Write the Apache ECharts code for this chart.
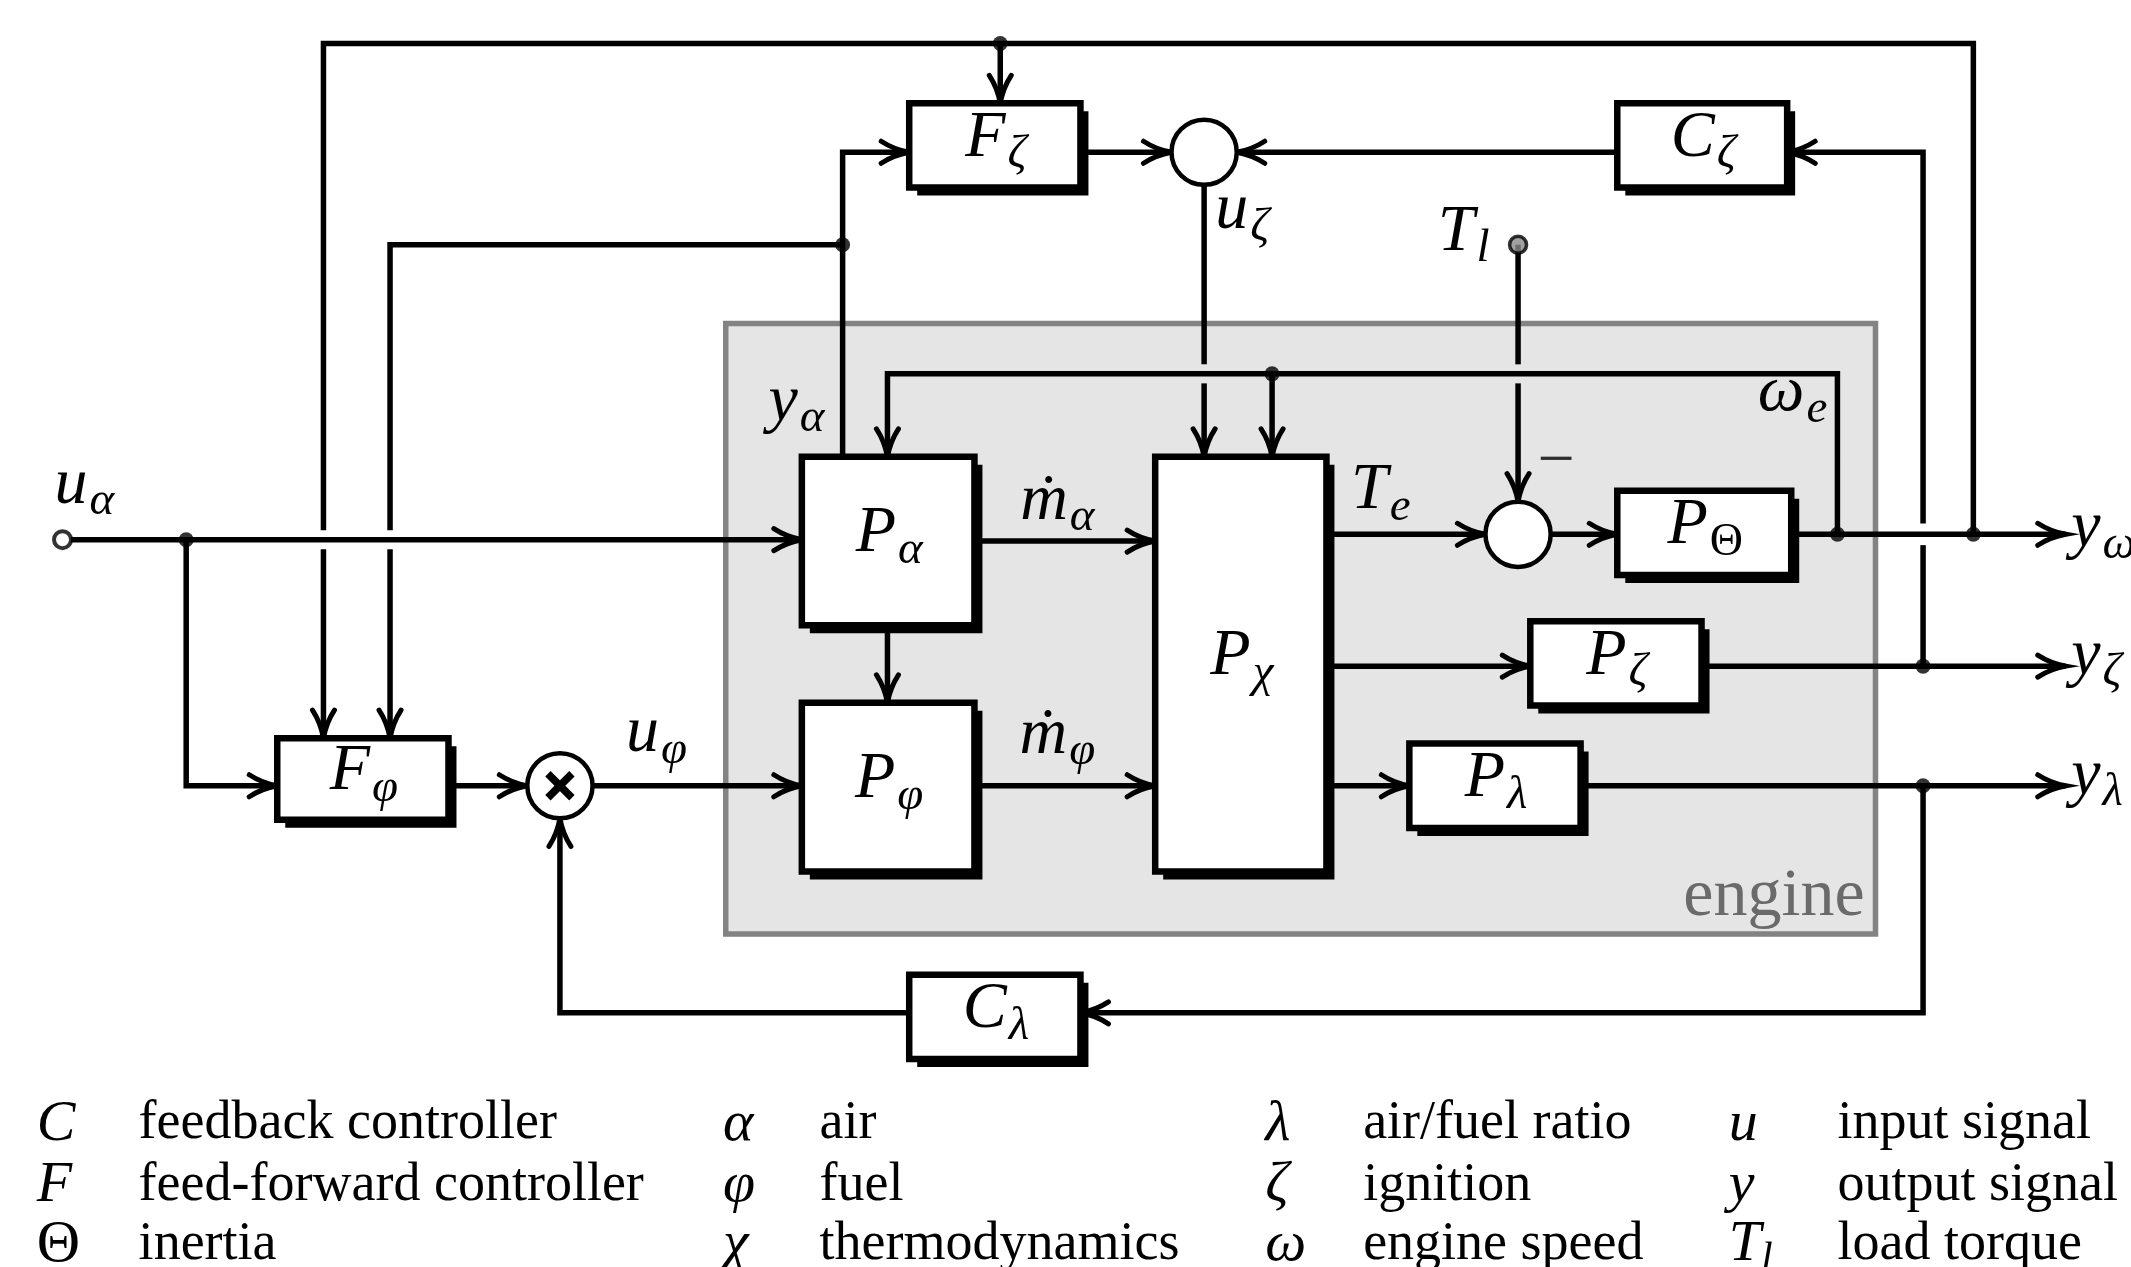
<!DOCTYPE html>
<html>
<head>
<meta charset="utf-8">
<script src="https://cdn.jsdelivr.net/npm/echarts@6/dist/echarts.min.js"></script>
<style>
    html, body { margin: 0; padding: 0; background: #fff; }
    #chart { width: 2131px; height: 1267px; }
</style>
</head>
<body>
<div id="chart"></div>
<script>
// diagram units: x 0..1568 left to right, y 0..932 top to bottom
const SERIF = '"Liberation Serif", "DejaVu Serif", serif'

const engineArea = [534, 238, 1380, 687]

// [x0, y0, x1, y1, symbol, subscript]
const blocks = [
    [669, 76, 795, 138, 'F', 'ζ'],
    [1190, 76, 1315, 138, 'C', 'ζ'],
    [590, 336, 717, 460, 'P', 'α'],
    [590, 517, 717, 641, 'P', 'φ'],
    [850, 336, 976, 641, 'P', 'χ'],
    [1190, 361, 1318, 423, 'P', 'Θ'],
    [1126, 457, 1252, 519, 'P', 'ζ'],
    [1037, 547, 1163, 609, 'P', 'λ'],
    [204, 543, 330, 603, 'F', 'φ'],
    [669, 717, 795, 779, 'C', 'λ']
]

// signal paths, last point gets an arrow head when arrow is true
const wires = [
    { pts: [[238, 390], [238, 32], [1452, 32], [1452, 393]], arrow: false },
    { pts: [[238, 404], [238, 543]], arrow: true },
    { pts: [[736, 32], [736, 76]], arrow: true },
    { pts: [[620, 180], [287, 180], [287, 390]], arrow: false },
    { pts: [[287, 404], [287, 543]], arrow: true },
    { pts: [[620, 336], [620, 112], [669, 112]], arrow: true },
    { pts: [[795, 112], [862, 112]], arrow: true },
    { pts: [[1190, 112], [910, 112]], arrow: true },
    { pts: [[1415, 490], [1415, 401]], arrow: false },
    { pts: [[1415, 385], [1415, 112], [1315, 112]], arrow: true },
    { pts: [[886, 136], [886, 268]], arrow: false },
    { pts: [[886, 282], [886, 336]], arrow: true },
    { pts: [[1117, 180], [1117, 268]], arrow: false },
    { pts: [[1117, 282], [1117, 369]], arrow: true },
    { pts: [[1352, 393], [1352, 275], [653, 275], [653, 336]], arrow: true },
    { pts: [[936, 275], [936, 336]], arrow: true },
    { pts: [[52, 397], [590, 397]], arrow: true },
    { pts: [[137, 397], [137, 578], [204, 578]], arrow: true },
    { pts: [[330, 578], [388, 578]], arrow: true },
    { pts: [[436, 578], [590, 578]], arrow: true },
    { pts: [[653, 460], [653, 517]], arrow: true },
    { pts: [[717, 398], [850, 398]], arrow: true },
    { pts: [[717, 578], [850, 578]], arrow: true },
    { pts: [[976, 393], [1093, 393]], arrow: true },
    { pts: [[1141, 393], [1190, 393]], arrow: true },
    { pts: [[1318, 393], [1520, 393]], arrow: true },
    { pts: [[976, 490], [1126, 490]], arrow: true },
    { pts: [[1252, 490], [1520, 490]], arrow: true },
    { pts: [[976, 578], [1037, 578]], arrow: true },
    { pts: [[1163, 578], [1520, 578]], arrow: true },
    { pts: [[1415, 578], [1415, 745], [795, 745]], arrow: true },
    { pts: [[669, 745], [412, 745], [412, 602]], arrow: true }
]

// summing / multiplying points: [x, y, kind]
const nodes = [
    [886, 112, 'sum'],
    [1117, 393, 'sum'],
    [412, 578, 'mult']
]

const branchDots = [
    [137, 397], [620, 180], [736, 32], [936, 275],
    [1352, 393], [1452, 393], [1415, 490], [1415, 578]
]

const terminals = [
    [46, 397, 'open'],
    [1117, 180, 'grey']
]

// [x, y, symbol, subscript, align]
const signalLabels = [
    [62, 357, 'u', 'α', 'center'],
    [586, 296, 'y', 'α', 'center'],
    [778, 369, 'ṁ', 'α', 'center'],
    [778, 541, 'ṁ', 'φ', 'center'],
    [483, 540, 'u', 'φ', 'center'],
    [914, 155, 'u', 'ζ', 'center'],
    [1077, 171, 'T', 'l', 'center'],
    [1016, 361, 'T', 'e', 'center'],
    [1319, 289, 'ω', 'e', 'center'],
    [1524, 389, 'y', 'ω', 'left'],
    [1524, 483, 'y', 'ζ', 'left'],
    [1524, 571, 'y', 'λ', 'left']
]

const legendRows = [827, 872, 916]
const legendCols = [[27, 102], [532, 603], [931, 1003], [1272, 1352]]
const legendSymbols = [
    ['C', 'F', 'Θ'],
    ['α', 'φ', 'χ'],
    ['λ', 'ζ', 'ω'],
    ['u', 'y', 'T_l']
]
const legendTexts = [
    ['feedback controller', 'feed-forward controller', 'inertia'],
    ['air', 'fuel', 'thermodynamics'],
    ['air/fuel ratio', 'ignition', 'engine speed'],
    ['input signal', 'output signal', 'load torque']
]

const RICH = {
    b: { fontFamily: SERIF, fontStyle: 'italic', fontSize: 66, lineHeight: 80, verticalAlign: 'middle' },
    s: { fontFamily: SERIF, fontStyle: 'italic', fontSize: 47, lineHeight: 38, verticalAlign: 'bottom', padding: [0, 0, 0, 2] },
    su: { fontFamily: SERIF, fontSize: 46, lineHeight: 38, verticalAlign: 'bottom', padding: [0, 0, 0, 2] },
    r: { fontFamily: SERIF, fontSize: 60, lineHeight: 72, verticalAlign: 'middle' },
    lb: { fontFamily: SERIF, fontStyle: 'italic', fontSize: 58, lineHeight: 72, verticalAlign: 'middle' },
    ls: { fontFamily: SERIF, fontStyle: 'italic', fontSize: 42, lineHeight: 36, verticalAlign: 'bottom' }
}

function mathText(main, sub) {
    let t = '{b|' + main + '}'
    if (sub) t += (sub === 'Θ' ? '{su|' : '{s|') + sub + '}'
    return t
}

const chart = echarts.init(document.getElementById('chart'), null, { renderer: 'canvas' })

function renderEngine(params, api) {
    const p0 = api.coord([engineArea[0], engineArea[1]])
    const p1 = api.coord([engineArea[2], engineArea[3]])
    const tp = api.coord([1372, 660])
    return {
        type: 'group',
        children: [
            {
                type: 'rect',
                shape: { x: p0[0], y: p0[1], width: p1[0] - p0[0], height: p1[1] - p0[1] },
                style: { fill: '#e5e5e5', stroke: '#838383', lineWidth: 5.5 }
            },
            {
                type: 'text', x: tp[0], y: tp[1],
                style: { text: 'engine', fontFamily: SERIF, fontSize: 68, fill: '#6a6a6a', align: 'right', verticalAlign: 'middle' }
            }
        ]
    }
}

function renderWire(params, api) {
    const w = wires[params.dataIndex]
    const pts = w.pts.map(p => api.coord(p))
    const children = [{
        type: 'polyline',
        shape: { points: pts },
        style: { stroke: '#000', lineWidth: 5.5, fill: null, lineJoin: 'miter', lineCap: 'butt' }
    }]
    if (w.arrow) {
        const tip = pts[pts.length - 1]
        const prev = pts[pts.length - 2]
        let dx = tip[0] - prev[0], dy = tip[1] - prev[1]
        const len = Math.hypot(dx, dy)
        dx /= len; dy /= len
        const L = 28, W = 11
        const bx = tip[0] - L * dx, by = tip[1] - L * dy
        const cx = tip[0] - 0.55 * L * dx, cy = tip[1] - 0.55 * L * dy
        const path = 'M' + (bx - W * dy) + ' ' + (by + W * dx) +
            ' Q' + (cx - 0.25 * W * dy) + ' ' + (cy + 0.25 * W * dx) + ' ' + tip[0] + ' ' + tip[1] +
            ' Q' + (cx + 0.25 * W * dy) + ' ' + (cy - 0.25 * W * dx) + ' ' + (bx + W * dy) + ' ' + (by - W * dx)
        children.push({
            type: 'path',
            shape: { pathData: path },
            style: { stroke: '#000', lineWidth: 5, fill: null, lineJoin: 'miter', lineCap: 'round' }
        })
    }
    return { type: 'group', children }
}

function renderBlock(params, api) {
    const b = blocks[params.dataIndex]
    const p0 = api.coord([b[0], b[1]])
    const p1 = api.coord([b[2], b[3]])
    const w = p1[0] - p0[0], h = p1[1] - p0[1]
    return {
        type: 'group',
        children: [
            { type: 'rect', shape: { x: p0[0] + 8, y: p0[1] + 8, width: w, height: h }, style: { fill: '#000' } },
            { type: 'rect', shape: { x: p0[0], y: p0[1], width: w, height: h }, style: { fill: '#fff', stroke: '#000', lineWidth: 6.5 } },
            {
                type: 'text', x: p0[0] + w / 2 + 1, y: p0[1] + h / 2 - 7,
                style: { text: mathText(b[4], b[5]), rich: RICH, align: 'center', verticalAlign: 'middle', fill: '#000' }
            }
        ]
    }
}

function renderNode(params, api) {
    const n = nodes[params.dataIndex]
    const c = api.coord([n[0], n[1]])
    const r = api.size([24, 24])[0]
    const children = [{
        type: 'circle',
        shape: { cx: c[0], cy: c[1], r },
        style: { fill: '#fff', stroke: '#000', lineWidth: 4.5 }
    }]
    if (n[2] === 'mult') {
        const k = 12
        children.push(
            { type: 'line', shape: { x1: c[0] - k, y1: c[1] - k, x2: c[0] + k, y2: c[1] + k }, style: { stroke: '#000', lineWidth: 7.5 } },
            { type: 'line', shape: { x1: c[0] - k, y1: c[1] + k, x2: c[0] + k, y2: c[1] - k }, style: { stroke: '#000', lineWidth: 7.5 } }
        )
    }
    return { type: 'group', children }
}

function renderSignalLabel(params, api) {
    const l = signalLabels[params.dataIndex]
    const p = api.coord([l[0], l[1]])
    return {
        type: 'text', x: p[0], y: p[1],
        style: { text: mathText(l[2], l[3]), rich: RICH, align: l[4], verticalAlign: 'middle', fill: '#000' }
    }
}

const legendItems = []
legendCols.forEach((col, ci) => {
    legendRows.forEach((row, ri) => legendItems.push([col[0], row, ci, ri]))
})

function renderLegend(params, api) {
    const it = legendItems[params.dataIndex]
    const col = legendCols[it[2]]
    const sym = legendSymbols[it[2]][it[3]]
    const ps = api.coord([col[0], it[1]])
    const pt = api.coord([col[1], it[1]])
    let symText
    if (sym === 'Θ') symText = '{r|Θ}'
    else if (sym === 'T_l') symText = '{lb|T}{ls|l}'
    else symText = '{lb|' + sym + '}'
    return {
        type: 'group',
        children: [
            { type: 'text', x: ps[0], y: ps[1], style: { text: symText, rich: RICH, align: 'left', verticalAlign: 'middle', fill: '#000' } },
            { type: 'text', x: pt[0], y: pt[1], style: { text: legendTexts[it[2]][it[3]], fontFamily: SERIF, fontSize: 54, fill: '#000', align: 'left', verticalAlign: 'middle' } }
        ]
    }
}

const option = {
    animation: false,
    backgroundColor: '#fff',
    grid: { left: 0, right: 0, top: 0, bottom: 0 },
    xAxis: { type: 'value', min: 0, max: 1568, show: false },
    yAxis: { type: 'value', min: 0, max: 932, inverse: true, show: false },
    series: [
        { type: 'custom', name: 'engine', z: 1, renderItem: renderEngine, data: [[engineArea[0], engineArea[1]]], silent: true },
        { type: 'custom', name: 'wires', z: 2, renderItem: renderWire, data: wires.map(w => w.pts[0]), silent: true },
        { type: 'custom', name: 'blocks', z: 3, renderItem: renderBlock, data: blocks.map(b => [b[0], b[1]]), silent: true },
        { type: 'custom', name: 'nodes', z: 3, renderItem: renderNode, data: nodes.map(n => [n[0], n[1]]), silent: true },
        {
            type: 'scatter', name: 'branch', z: 4, symbol: 'circle', symbolSize: 15,
            itemStyle: { color: '#000' }, data: branchDots, silent: true
        },
        {
            type: 'scatter', name: 'terminals', z: 4, symbol: 'circle', symbolSize: 17, silent: true,
            data: terminals.map(t => ({
                value: [t[0], t[1]],
                itemStyle: t[2] === 'open'
                    ? { color: '#fff', borderColor: '#000', borderWidth: 4 }
                    : { color: '#8a8a8a', borderColor: '#000', borderWidth: 3.5 }
            }))
        },
        { type: 'custom', name: 'signals', z: 5, renderItem: renderSignalLabel, data: signalLabels.map(l => [l[0], l[1]]), silent: true },
        {
            type: 'scatter', name: 'minus', z: 5, symbolSize: 0, silent: true,
            data: [[1145, 340]],
            label: { show: true, position: 'inside', formatter: '−', fontFamily: SERIF, fontSize: 66, color: '#000' }
        },
        { type: 'custom', name: 'legend', z: 5, renderItem: renderLegend, data: legendItems.map(i => [i[0], i[1]]), silent: true }
    ]
}

chart.setOption(option)
window.addEventListener('resize', () => chart.resize())
</script>
</body>
</html>
